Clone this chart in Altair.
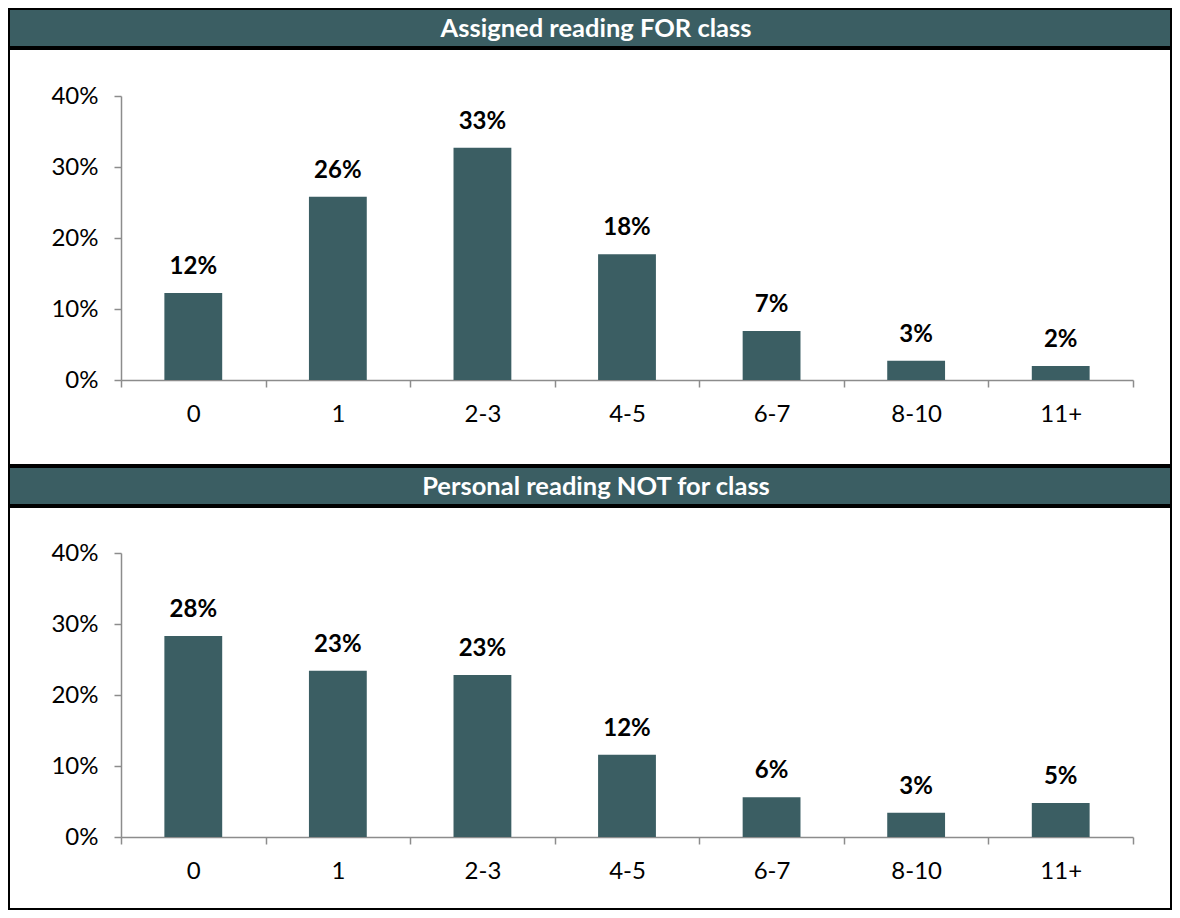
import altair as alt
import pandas as pd

categories = ["0", "1", "2-3", "4-5", "6-7", "8-10", "11+"]
assigned = [0.1225, 0.258, 0.327, 0.177, 0.069, 0.027, 0.0197]
personal = [0.283, 0.234, 0.228, 0.116, 0.056, 0.034, 0.048]
titles = ["Assigned reading FOR class", "Personal reading NOT for class"]

TEAL = "#3b5e63"
FONT = "Lato"
W = 1162
HEADER_H = 38
X_RANGE = [112, 1124]


def header(text):
    df = pd.DataFrame({"t": [text]})
    return alt.Chart(df).mark_text(
        font=FONT, fontSize=25.5, fontWeight="bold", color="white"
    ).encode(
        text="t:N",
        x=alt.value(W / 2 + 6),
        y=alt.value(HEADER_H / 2 + 1),
    ).properties(
        width=W, height=HEADER_H,
        view=alt.ViewBackground(fill=TEAL, stroke="black", strokeWidth=2),
    )


def panel(values, h, y_range):
    df = pd.DataFrame({"cat": categories, "v": values})
    x = alt.X("cat:N", sort=categories,
              scale=alt.Scale(range=X_RANGE, paddingInner=0, paddingOuter=0),
              axis=alt.Axis(title=None, labelAngle=0, tickBand="extent",
                            offset=-(h - y_range[0]), labelFont=FONT,
                            labelFontSize=24, labelColor="black",
                            labelPadding=15, tickSize=7, tickColor="#8c8c8c",
                            domainColor="#8c8c8c", tickWidth=1.5,
                            domainWidth=1.5))
    y = alt.Y("v:Q",
              scale=alt.Scale(domain=[0, 0.4], range=y_range, nice=False),
              axis=alt.Axis(title=None, format=".0%", values=[0, 0.1, 0.2, 0.3, 0.4],
                            offset=-X_RANGE[0], grid=False, labelFont=FONT,
                            labelFontSize=24, labelColor="black",
                            labelPadding=16, tickSize=7, tickColor="#8c8c8c",
                            domainColor="#8c8c8c", tickWidth=1.5,
                            domainWidth=1.5))
    base = alt.Chart(df).encode(x=x, y=y)
    bars = base.mark_bar(color=TEAL, width={"band": 0.4})
    labels = base.mark_text(font=FONT, fontSize=24, fontWeight="bold",
                            color="black", baseline="alphabetic", dy=-19
                            ).encode(text=alt.Text("v:Q", format=".0%"))
    return alt.layer(bars, labels).properties(
        width=W, height=h,
        view=alt.ViewBackground(fill="white", stroke="black", strokeWidth=2),
    )


chart = alt.vconcat(
    header(titles[0]),
    panel(assigned, 416, [331, 47]),
    header(titles[1]),
    panel(personal, 402, [330, 46]),
    spacing=0,
).properties(padding=0).configure_concat(spacing=0)

chart.save("out.html", embed_options={"renderer": "svg", "actions": False})
